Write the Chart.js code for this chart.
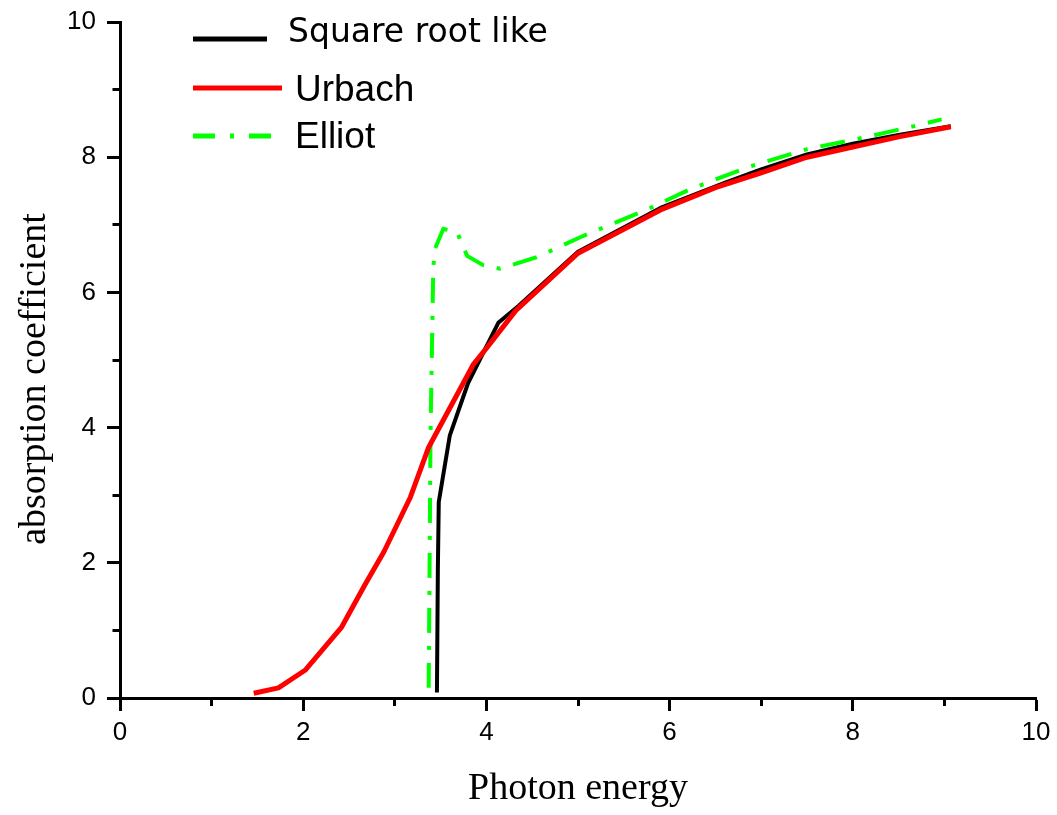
<!DOCTYPE html>
<html>
<head>
<meta charset="utf-8">
<script src="https://cdn.jsdelivr.net/npm/chart.js@4/dist/chart.umd.min.js"></script>
<style>
  html, body { margin: 0; padding: 0; background: #ffffff; }
  #wrap { width: 1057px; height: 815px; position: relative; }
</style>
</head>
<body>
<div id="wrap"><canvas id="c"></canvas></div>
<script>
// ---- data ----
const seriesNames = ["Square root like", "Urbach", "Elliot"];

const sqrtX = [3.46, 3.47, 3.48, 3.60, 3.80, 4.13, 4.35, 5.00, 5.90, 6.60, 7.00, 7.50, 8.00, 8.50, 9.07];
const sqrtY = [0.08, 1.90, 2.90, 3.88, 4.66, 5.55, 5.80, 6.60, 7.25, 7.62, 7.82, 8.04, 8.20, 8.33, 8.46];

const urbachX = [1.46, 1.73, 2.02, 2.42, 2.68, 2.88, 3.17, 3.37, 3.86, 4.01, 4.32, 5.00, 5.90, 6.50, 7.00, 7.50, 8.00, 8.50, 9.07];
const urbachY = [0.07, 0.15, 0.41, 1.05, 1.69, 2.16, 2.97, 3.71, 4.94, 5.19, 5.73, 6.58, 7.22, 7.55, 7.77, 8.00, 8.15, 8.30, 8.45];

const elliotX = [3.37, 3.39, 3.42, 3.44, 3.53, 3.68, 3.79, 3.97, 4.15, 4.55, 5.03, 5.76, 6.23, 6.85, 7.50, 8.12, 8.67, 8.97];
const elliotY = [0.15, 3.90, 6.37, 6.65, 6.94, 6.89, 6.54, 6.40, 6.35, 6.52, 6.82, 7.23, 7.53, 7.85, 8.12, 8.29, 8.46, 8.56];

const xTickValues = [0, 2, 4, 6, 8, 10];
const yTickValues = [0, 2, 4, 6, 8, 10];

const xTitle = "Photon energy";
const yTitle = "absorption coefficient";

// ---- helpers ----
const pts = (xs, ys) => xs.map((x, i) => ({ x: x, y: ys[i] }));
const elliotDash = [25, 13, 4, 13];

// custom legend drawn at the reference's positions
const legendPlugin = {
  id: 'refLegend',
  afterDraw(chart) {
    const ctx = chart.ctx;
    const ds = chart.data.datasets;
    const rows = [
      { i: 0, x1: 193, x2: 267, y: 39, tx: 288, ty: 42, font: '33px "DejaVu Sans", sans-serif' },
      { i: 1, x1: 193, x2: 282, y: 88, tx: 295, ty: 101, font: '37px "Liberation Sans", Arial, sans-serif' },
      { i: 2, x1: 193, x2: 272, y: 136, tx: 295, ty: 148, font: '37px "Liberation Sans", Arial, sans-serif' }
    ];
    ctx.save();
    rows.forEach(r => {
      const d = ds[r.i];
      ctx.beginPath();
      ctx.setLineDash(d.borderDash ? [22, 15, 4, 15] : []);
      ctx.lineDashOffset = 0;
      ctx.lineCap = 'butt';
      ctx.strokeStyle = d.borderColor;
      ctx.lineWidth = 5;
      ctx.moveTo(r.x1, r.y);
      ctx.lineTo(r.x2, r.y);
      ctx.stroke();
      ctx.setLineDash([]);
      ctx.fillStyle = '#000000';
      ctx.font = r.font;
      ctx.textAlign = 'left';
      ctx.textBaseline = 'alphabetic';
      ctx.fillText(d.label, r.tx, r.ty);
    });
    ctx.restore();
  }
};

const isMajor = (v) => Math.abs(v % 2) < 1e-9;

new Chart(document.getElementById('c'), {
  type: 'line',
  data: {
    datasets: [
      {
        label: seriesNames[0],
        data: pts(sqrtX, sqrtY),
        borderColor: '#000000',
        borderWidth: 4,
        pointRadius: 0,
        tension: 0,
        borderJoinStyle: 'round',
        order: 3
      },
      {
        label: seriesNames[1],
        data: pts(urbachX, urbachY),
        borderColor: '#ff0000',
        borderWidth: 5,
        pointRadius: 0,
        tension: 0,
        borderJoinStyle: 'round',
        order: 1
      },
      {
        label: seriesNames[2],
        data: pts(elliotX, elliotY),
        borderColor: '#00ff00',
        borderWidth: 4,
        borderDash: elliotDash,
        pointRadius: 0,
        tension: 0,
        order: 2
      }
    ]
  },
  options: {
    responsive: true,
    maintainAspectRatio: false,
    animation: false,
    layout: { padding: { top: 22, right: 21, left: 0, bottom: 0 } },
    plugins: {
      legend: { display: false },
      tooltip: { enabled: false }
    },
    scales: {
      x: {
        type: 'linear',
        min: 0,
        max: 10,
        afterFit: (s) => { s.height = 117; },
        border: { display: true, color: '#000000', width: 3 },
        grid: {
          display: true,
          drawOnChartArea: false,
          drawTicks: true,
          tickLength: 13,
          color: '#000000',
          tickWidth: 3,
          tickBorderDash: (c) => (c.tick && isMajor(c.tick.value)) ? [] : [6, 100]
        },
        ticks: {
          stepSize: 1,
          autoSkip: false,
          maxRotation: 0,
          padding: 6,
          color: '#000000',
          font: { family: '"Liberation Sans", Arial, sans-serif', size: 26 },
          callback: (v) => xTickValues.includes(v) ? String(v) : ''
        },
        title: {
          display: true,
          text: xTitle,
          color: '#000000',
          font: { family: '"Liberation Serif", "Times New Roman", serif', size: 38 },
          padding: { top: 0, bottom: 3 }
        }
      },
      y: {
        type: 'linear',
        min: 0,
        max: 10,
        afterFit: (s) => { s.width = 120; s.paddingTop = 0; s.paddingBottom = 0; },
        border: { display: true, color: '#000000', width: 3 },
        grid: {
          display: true,
          drawOnChartArea: false,
          drawTicks: true,
          tickLength: 13,
          color: '#000000',
          tickWidth: 3,
          tickBorderDash: (c) => (c.tick && isMajor(c.tick.value)) ? [] : [0, 5.5, 30, 0]
        },
        ticks: {
          stepSize: 1,
          autoSkip: false,
          padding: 11,
          color: '#000000',
          font: { family: '"Liberation Sans", Arial, sans-serif', size: 26 },
          callback: (v) => yTickValues.includes(v) ? String(v) : ''
        },
        title: {
          display: true,
          text: yTitle + '    ',
          color: '#000000',
          font: { family: '"Liberation Serif", "Times New Roman", serif', size: 38 },
          padding: { top: 12, bottom: 0 }
        }
      }
    }
  },
  plugins: [legendPlugin]
});
</script>
</body>
</html>
